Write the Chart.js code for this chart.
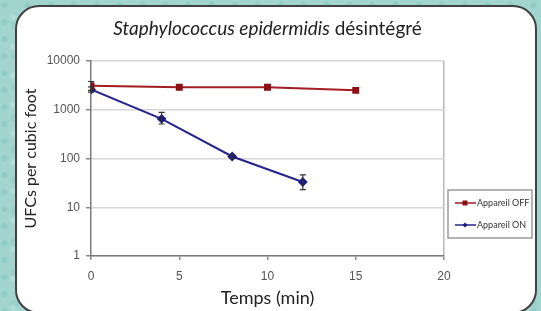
<!DOCTYPE html>
<html>
<head>
<meta charset="utf-8">
<script src="https://cdn.jsdelivr.net/npm/chart.js@4.4.1/dist/chart.umd.min.js"></script>
<style>
  html, body { margin: 0; padding: 0; width: 541px; height: 311px; overflow: hidden; }
  body {
    background-color: #a2d5d0;
    background-image:
      radial-gradient(circle at 20% 30%, rgba(110,185,180,0.35) 0 2px, transparent 4px),
      radial-gradient(circle at 70% 60%, rgba(200,235,232,0.4) 0 2px, transparent 4px),
      radial-gradient(circle at 40% 80%, rgba(120,190,185,0.25) 0 3px, transparent 5px);
    background-size: 23px 17px, 19px 29px, 37px 31px;
  }
  #card {
    position: absolute; left: 15px; top: 5px;
    width: 518px; height: 305px;
    background: #fff; border: 2px solid #404040; border-radius: 24px;
  }
  #wrap { position: absolute; left: 0; top: 0; width: 541px; height: 311px; }
</style>
</head>
<body>
<div id="card"></div>
<div id="wrap"><canvas id="chart1"></canvas></div>
<script>
// données
const titreItalique = "Staphylococcus epidermidis";
const titreSuite = " désintégré";
const xTicks = [0, 5, 10, 15, 20];
const yTicks = [1, 10, 100, 1000, 10000];

const offTemps = [0, 5, 10, 15];
const offUfc = [3100, 2900, 2900, 2500];
const offErrBas = [2500, null, null, null];
const offErrHaut = [3800, null, null, null];

const onTemps = [0, 4, 8, 12];
const onUfc = [2600, 650, 110, 33];
const onErrBas = [2300, 510, 100, 23];
const onErrHaut = [2950, 880, 120, 46];

const rouge = "#a31d22";
const bleu = "#24248c";

// barres d'erreur
const errorBars = {
  id: "errorBars",
  afterDatasetsDraw(chart) {
    const ctx = chart.ctx;
    const x = chart.scales.x;
    const y = chart.scales.y;
    const sets = [
      [offTemps, offErrBas, offErrHaut],
      [onTemps, onErrBas, onErrHaut],
    ];
    ctx.save();
    ctx.strokeStyle = "#333";
    ctx.lineWidth = 1.2;
    sets.forEach(([xs, lo, hi]) => {
      xs.forEach((t, i) => {
        if (lo[i] == null) return;
        const px = x.getPixelForValue(t);
        const y1 = y.getPixelForValue(lo[i]);
        const y2 = y.getPixelForValue(hi[i]);
        ctx.beginPath();
        ctx.moveTo(px, y1); ctx.lineTo(px, y2);
        ctx.moveTo(px - 3, y1); ctx.lineTo(px + 3, y1);
        ctx.moveTo(px - 3, y2); ctx.lineTo(px + 3, y2);
        ctx.stroke();
      });
    });
    ctx.restore();
  },
};

// titre + légende encadrée
const titreLegende = {
  id: "titreLegende",
  afterDraw(chart) {
    const ctx = chart.ctx;
    const a = chart.chartArea;
    ctx.save();
    ctx.fillStyle = "#222";
    ctx.textBaseline = "middle";
    ctx.font = "italic 19px Lato";
    const w1 = ctx.measureText(titreItalique).width;
    ctx.font = "19px Lato";
    const w2 = ctx.measureText(titreSuite).width;
    let tx = (a.left + a.right) / 2 - (w1 + w2) / 2;
    ctx.font = "italic 19px Lato";
    ctx.fillText(titreItalique, tx, 29);
    ctx.font = "19px Lato";
    ctx.fillText(titreSuite, tx + w1, 29);

    // légende
    const bx = a.right + 4, by = 190, bw = 84, bh = 48;
    ctx.strokeStyle = "#9a9a9a";
    ctx.lineWidth = 1.5;
    ctx.strokeRect(bx, by, bw, bh);
    chart.data.datasets.forEach((ds, i) => {
      const ly = by + 13 + i * 22;
      ctx.strokeStyle = ds.borderColor;
      ctx.lineWidth = 1.5;
      ctx.beginPath();
      ctx.moveTo(bx + 7, ly); ctx.lineTo(bx + 28, ly);
      ctx.stroke();
      ctx.fillStyle = ds.pointBackgroundColor;
      const mx = bx + 17;
      ctx.beginPath();
      if (ds.pointStyle === "rect") {
        ctx.rect(mx - 2.5, ly - 2.5, 5, 5);
      } else {
        ctx.moveTo(mx, ly - 2.5); ctx.lineTo(mx + 2.5, ly); ctx.lineTo(mx, ly + 2.5); ctx.lineTo(mx - 2.5, ly);
        ctx.closePath();
      }
      ctx.fill();
      ctx.fillStyle = "#333";
      ctx.font = "9px Lato";
      ctx.fillText(ds.label, bx + 29, ly);
    });
    ctx.restore();
  },
};

document.addEventListener("DOMContentLoaded", () => {
  new Chart(document.getElementById("chart1"), {
    type: "line",
    data: {
      datasets: [
        {
          label: "Appareil OFF",
          data: offTemps.map((t, i) => ({ x: t, y: offUfc[i] })),
          borderColor: rouge,
          backgroundColor: rouge,
          pointBackgroundColor: "#8c1016",
          pointBorderColor: "#8c1016",
          pointStyle: "rect",
          pointRadius: 3.5,
          borderWidth: 2,
        },
        {
          label: "Appareil ON",
          data: onTemps.map((t, i) => ({ x: t, y: onUfc[i] })),
          borderColor: bleu,
          backgroundColor: bleu,
          pointBackgroundColor: "#1a1a80",
          pointBorderColor: "#1a1a80",
          pointStyle: "rectRot",
          pointRadius: 3.5,
          borderWidth: 2,
        },
      ],
    },
    options: {
      responsive: true,
      maintainAspectRatio: false,
      animation: false,
      layout: { padding: { left: 17, right: 97, top: 61, bottom: 0 } },
      plugins: {
        legend: { display: false },
        tooltip: { enabled: false },
      },
      scales: {
        x: {
          type: "linear",
          min: 0,
          max: 20,
          afterBuildTicks: (s) => { s.ticks = xTicks.map((v) => ({ value: v })); },
          afterFit: (s) => { s.height = 55; },
          grid: {
            color: (c) => (c.tick && c.tick.value === 20 ? "#b8b8b8" : "transparent"),
            tickColor: "#8a8a8a",
            tickLength: 4,
            lineWidth: 1.5,
          },
          border: { color: "#7a7a7a", width: 1.5 },
          ticks: { padding: 9, color: "#555", font: { family: "Liberation Sans", size: 12 } },
          title: {
            display: true,
            text: "Temps (min)",
            color: "#222",
            font: { family: "Lato", size: 18 },
            padding: { top: 0, bottom: 2 },
          },
        },
        y: {
          type: "logarithmic",
          min: 1,
          max: 10000,
          afterBuildTicks: (s) => { s.ticks = yTicks.map((v) => ({ value: v })); },
          afterFit: (s) => { s.width = 74; },
          grid: { color: "#d6d6d6", tickColor: "#8a8a8a", tickLength: 5, lineWidth: 1.5 },
          border: { color: "#7a7a7a", width: 1.5 },
          ticks: {
            padding: 6,
            color: "#555",
            font: { family: "Liberation Sans", size: 12 },
            callback: (v) => String(v),
          },
          title: {
            display: true,
            text: "UFCs per cubic foot",
            color: "#222",
            font: { family: "Lato", size: 16 },
          },
        },
      },
    },
    plugins: [errorBars, titreLegende],
  });
});
</script>
</body>
</html>
